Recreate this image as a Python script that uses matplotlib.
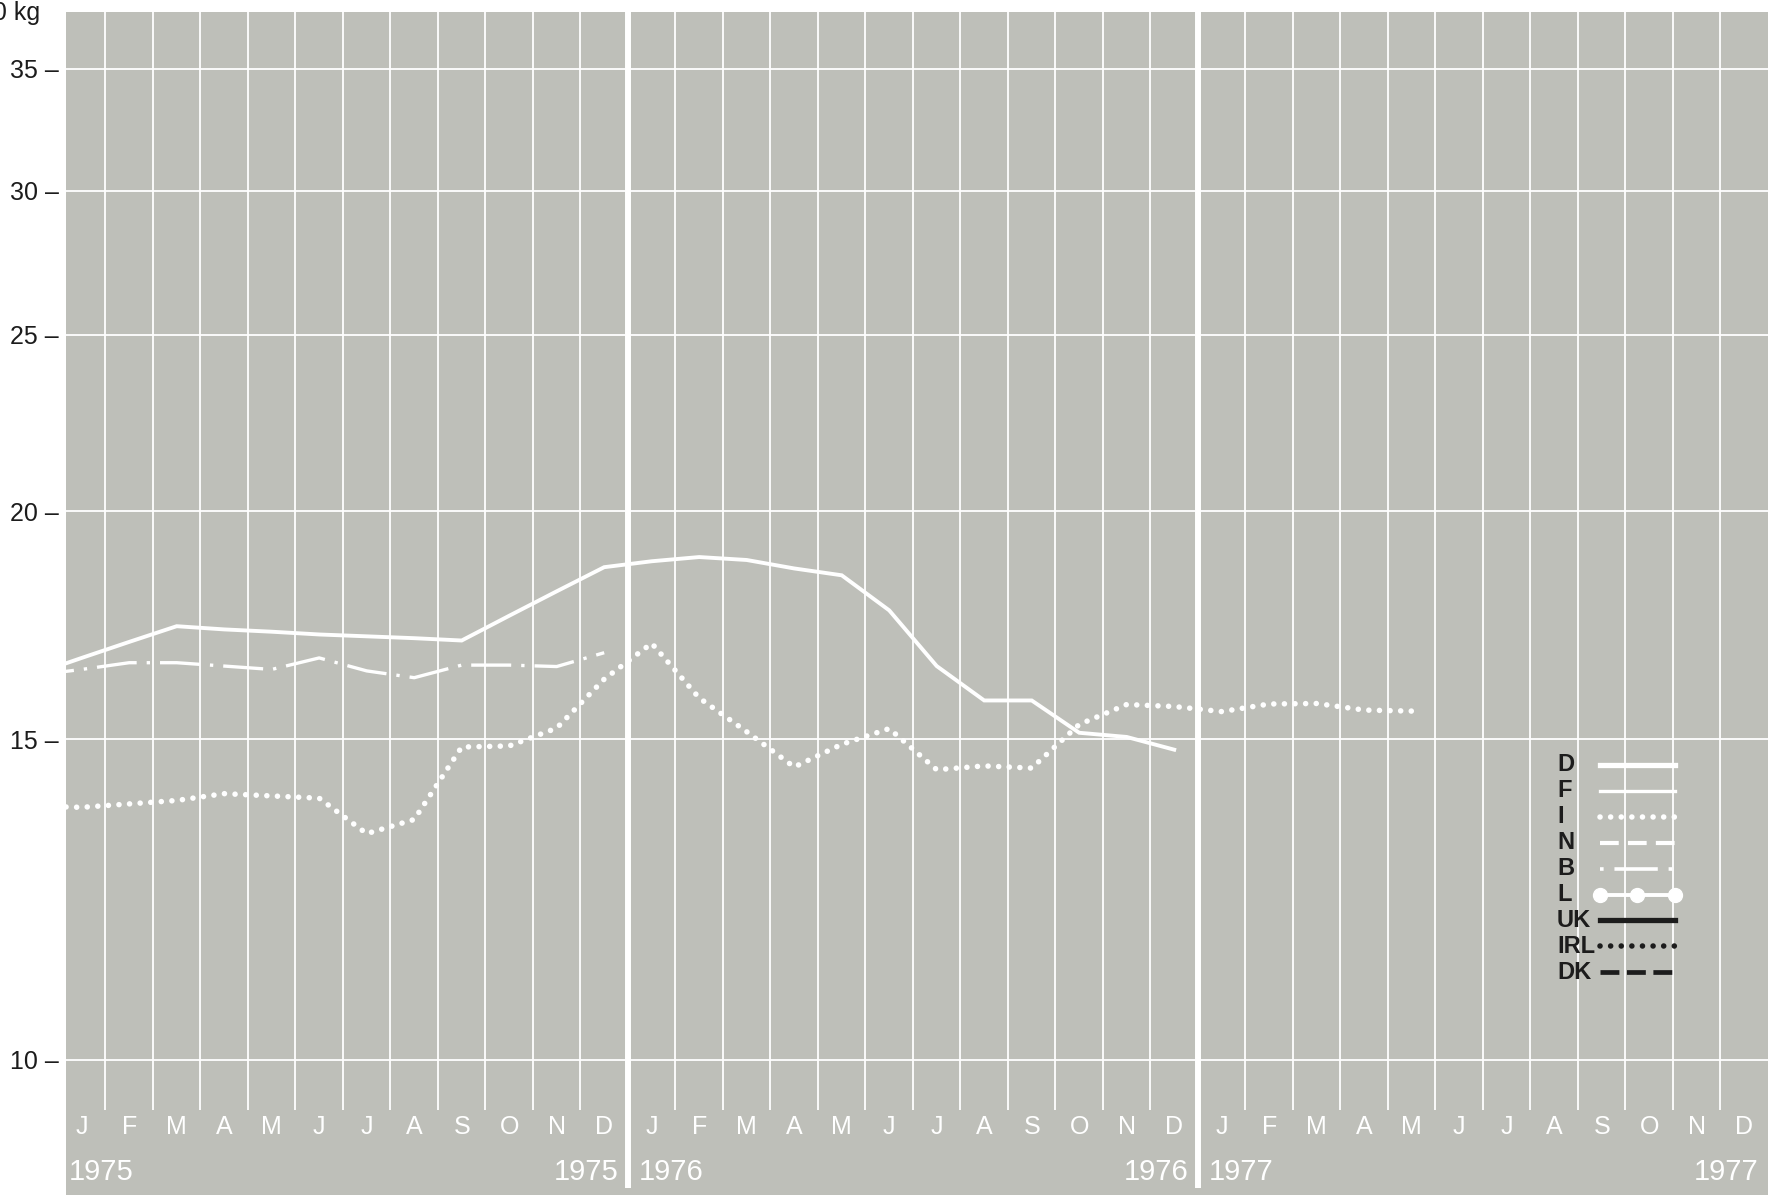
import numpy as np
import matplotlib
matplotlib.use("Agg")
import matplotlib.pyplot as plt
from matplotlib.ticker import FixedLocator, FixedFormatter, NullLocator

plt.rcParams['font.family'] = ['Liberation Sans', 'DejaVu Sans']

# monthly prices (kg), first value is Dec 1974, then Jan 1975 onwards
d_vals = [16.28, 16.62, 16.96, 17.30, 17.23, 17.18, 17.12, 17.08, 17.04, 16.99, 17.53, 18.08, 18.64,
          18.78, 18.88, 18.81, 18.61, 18.45, 17.65, 16.45, 15.75, 15.75, 15.12, 15.04, 14.80]
b_vals = [16.26, 16.38, 16.52, 16.52, 16.45, 16.38, 16.62, 16.35, 16.21, 16.47, 16.47, 16.44, 16.73]
i_vals = [13.78, 13.76, 13.82, 13.88, 14.00, 13.96, 13.92, 13.31, 13.55, 14.85, 14.87, 15.21, 16.18,
          16.93, 15.80, 15.14, 14.48, 14.90, 15.20, 14.43, 14.50, 14.46, 15.28, 15.67, 15.63,
          15.53, 15.68, 15.69, 15.56, 15.54]

month_letters = ["J", "F", "M", "A", "M", "J", "J", "A", "S", "O", "N", "D"]
years = [1975, 1976, 1977]
y_ticks = [10, 15, 20, 25, 30, 35]
legend_names = ["D", "F", "I", "N", "B", "L", "UK", "IRL", "DK"]

bg = "#bebfb9"
ink = "#1c1c1c"

fig = plt.figure(figsize=(17.75, 11.97), dpi=100)
ax = fig.add_axes([66 / 1775, 2 / 1197, 1702 / 1775, 1183 / 1197])
ax.set_facecolor(bg)
ax.set_yscale("log")
ax.set_xlim(0.17, 36.0)
ax.set_ylim(8.43, 37.6)
for s in ax.spines.values():
    s.set_visible(False)

# y axis, white horizontal rules
ax.yaxis.set_major_locator(FixedLocator(y_ticks))
ax.yaxis.set_major_formatter(FixedFormatter([f"{v} \u2013" for v in y_ticks]))
ax.yaxis.set_minor_locator(NullLocator())
ax.tick_params(axis="y", length=0, pad=5, labelsize=18, labelcolor=ink)
ax.tick_params(axis="x", bottom=False, labelbottom=False)
ax.xaxis.set_minor_locator(NullLocator())
ax.set_axisbelow(True)
ax.yaxis.grid(True, color="white", lw=1.3)

# month rules; thicker ones at the year changes
bounds = np.arange(1, 36)
thin = bounds[bounds % 12 != 0]
ax.vlines(thin, 9.39, 37.6, color="white", lw=1.3, zorder=1)
ax.vlines(bounds[bounds % 12 == 0], 8.5, 37.6, color="white", lw=4.3, zorder=1)

# month letters and years along the bottom
for k in range(36):
    ax.text(k + 0.5, 9.19, month_letters[k % 12], ha="center", va="center",
            color="white", fontsize=18)
for j, yr in enumerate(years):
    ax.text(12 * j + 0.22, 8.68, str(yr), ha="left", va="center", color="white",
            fontsize=21, family=["Liberation Sans Narrow", "Liberation Sans"])
    ax.text(12 * (j + 1) - 0.2, 8.68, str(yr), ha="right", va="center", color="white",
            fontsize=21, family=["Liberation Sans Narrow", "Liberation Sans"])

fig.text(40 / 1775, 1 - 13 / 1197, "100 kg", ha="right", va="center", fontsize=18, color=ink)

# series
x_d = np.arange(len(d_vals)) - 0.5
x_b = np.arange(len(b_vals)) - 0.5
x_i = np.arange(len(i_vals)) - 0.5
ax.plot(x_d, d_vals, color="white", lw=2.8, solid_joinstyle="miter", zorder=3)
ax.plot(x_b, b_vals, color="white", lw=2.4, ls=(0, (12, 3, 1, 3)), zorder=3)
ax.plot(x_i, i_vals, color="white", lw=4.0, ls=(0, (0.01, 1.9)),
        dash_capstyle="round", zorder=3)

# key
styles = [
    dict(color="white", lw=3.8),
    dict(color="white", lw=2.4),
    dict(color="white", lw=4.0, ls=(0, (0.01, 1.9)), dash_capstyle="round"),
    dict(color="white", lw=3.0, ls=(0, (4.5, 2.2))),
    dict(color="white", lw=2.6, ls=(0, (1, 3, 12, 3))),
    dict(color="white", lw=2.8, marker="o", ms=10),
    dict(color=ink, lw=3.8),
    dict(color=ink, lw=4.0, ls=(0, (0.01, 1.9)), dash_capstyle="round"),
    dict(color=ink, lw=3.4, ls=(0, (4, 1.6))),
]
key_top = 0.3635
key_step = 0.0219
for n, (name, st) in enumerate(zip(legend_names, styles)):
    yk = key_top - n * key_step
    ax.text(0.876, yk, name, transform=ax.transAxes, ha="left", va="center",
            fontsize=17, fontweight="bold", color=ink)
    ax.plot([0.9013, 0.9233, 0.9454], [yk, yk, yk], transform=ax.transAxes, **st)

fig.savefig("out.png", dpi=100, facecolor="white")
